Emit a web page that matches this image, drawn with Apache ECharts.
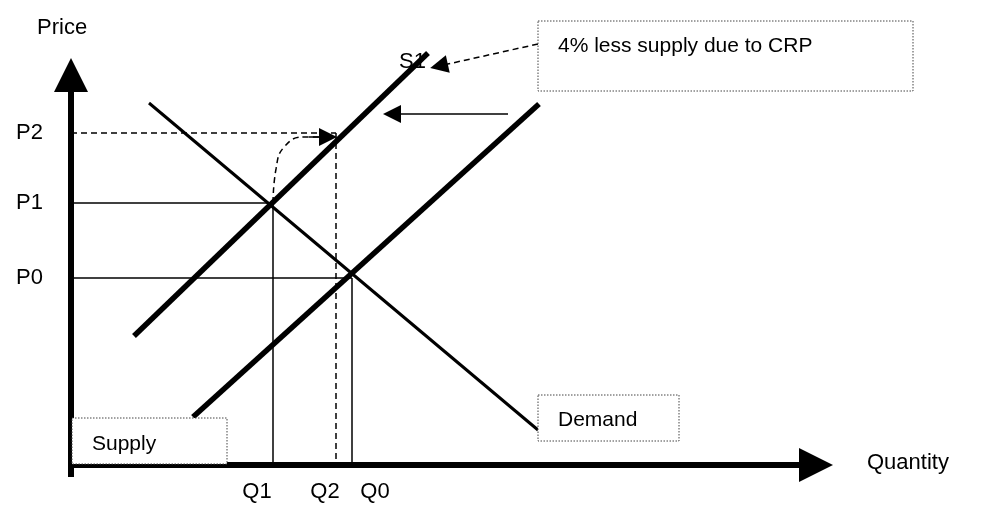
<!DOCTYPE html>
<html><head><meta charset="utf-8">
<script src="https://cdn.jsdelivr.net/npm/echarts@6/dist/echarts.min.js"></script>
<style>html,body{margin:0;background:#fff}#c{width:984px;height:506px}</style>
</head><body><div id="c"></div>
<script>
const priceNames = ['P2','P1','P0'];
const priceValues = [33.2, 26.2, 18.7];
const qtyNames = ['Q1','Q2','Q0'];
const qtyValues = [20.2, 26.5, 28.1];
const demandLine = [[7.8,36.2],[46.7,3.5]];
const supplyLine = [[12.2,4.8],[46.8,36.1]];
const supply1Line = [[6.3,12.9],[35.7,41.2]];
const shiftArrow = [[43.7,35.1],[32.1,35.1]];
const noteArrow = [[46.7,42.1],[36.8,39.9]];
const curvePts = [[20.2,26.2],[20.5,29.6],[21.4,31.9],[23.4,32.8],[25.0,32.8]];
const F = '"Liberation Sans", Arial, sans-serif';
const seg = (a,b,w,type,arrow,z,size) => ({type:'lines',coordinateSystem:'cartesian2d',silent:true,clip:false,z:z||2,
  symbol:['none',arrow?'triangle':'none'],symbolSize:arrow?(size||18):0,
  lineStyle:{color:'#000',width:w,type:type||'solid',opacity:1},itemStyle:{color:'#000'},data:[{coords:[a,b]}]});
const series = [];
series.push(seg([0,priceValues[1]],[qtyValues[0],priceValues[1]],1.5));
series.push(seg([qtyValues[0],priceValues[1]],[qtyValues[0],0],1.5));
series.push(seg([0,priceValues[2]],[qtyValues[2],priceValues[2]],1.5));
series.push(seg([qtyValues[2],priceValues[2]],[qtyValues[2],0],1.5));
series.push(seg([0,priceValues[0]],[qtyValues[1],priceValues[0]],1.5,[6,4]));
series.push(seg([qtyValues[1],priceValues[0]],[qtyValues[1],0],1.5,[6,4]));
series.push({type:'line',smooth:true,symbol:'none',silent:true,clip:false,data:curvePts,lineStyle:{color:'#000',width:1.5,type:[6,4]}});
series.push(seg([23.8,32.8],[25.7,32.8],1.5,'solid',true));
series.push(seg(demandLine[0],demandLine[1],3));
series.push(seg(supplyLine[0],supplyLine[1],5.5));
series.push(seg(supply1Line[0],supply1Line[1],5.5));
series.push(seg(shiftArrow[0],shiftArrow[1],1.5,'solid',true));
series.push(seg(noteArrow[0],noteArrow[1],1.5,[6,4],true));
series.push(seg([0,-1.2],[0,39.0],6,'solid',true,5,34));
series.push(seg([0,0],[74.5,0],6,'solid',true,5,34));
const chart = echarts.init(document.getElementById('c'));
chart.setOption({
  animation:false,
  grid:{left:71,right:0,top:0,bottom:41},
  xAxis:{type:'value',min:0,max:91.3,show:false},
  yAxis:{type:'value',min:0,max:46.5,show:false},
  series
});
const txt = (s,x,y,align,size) => ({type:'text',x,y,z:11,style:{text:s,font:(size||22)+'px '+F,fill:'#000',align:align||'left',verticalAlign:'middle'}});
const g = [
  txt('Price',37,28),
  txt('Quantity',867,463),
  {type:'rect',shape:{x:538,y:21,width:375,height:70},style:{fill:'#fff',stroke:'#444',lineWidth:1,lineDash:[1.5,1.5]},z:10},
  txt('4% less supply due to CRP',558,46,'left',21),
  {type:'rect',shape:{x:538,y:395,width:141,height:46},style:{fill:'#fff',stroke:'#444',lineWidth:1,lineDash:[1.5,1.5]},z:10},
  txt('Demand',558,420,'left',21),
  {type:'rect',shape:{x:72,y:418,width:155,height:46},style:{fill:'#fff',stroke:'#444',lineWidth:1,lineDash:[1.5,1.5]},z:10},
  txt('Supply',92,444,'left',21)
];
priceNames.forEach((n,i)=>{const p=chart.convertToPixel('grid',[0,priceValues[i]]);g.push(txt(n,16,p[1],'left'));});
const qOff=[-16,-11,23];
qtyNames.forEach((n,i)=>{const p=chart.convertToPixel('grid',[qtyValues[i],0]);g.push(txt(n,p[0]+qOff[i],492,'center'));});
const s1=chart.convertToPixel('grid',supply1Line[1]);
g.push(txt('S1',s1[0]-29,s1[1]+9,'left'));
chart.setOption({graphic:g});
</script></body></html>
